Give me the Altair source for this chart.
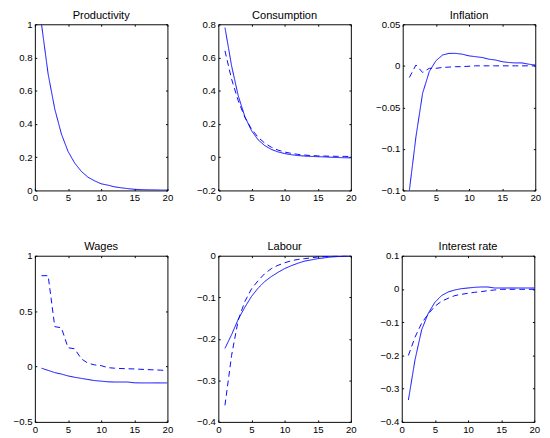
import altair as alt
import pandas as pd

# ---------------- data ----------------
periods = list(range(1, 21))

productivity = [1.0, 0.70, 0.49, 0.34, 0.235, 0.165, 0.115, 0.08, 0.058, 0.04,
                0.032, 0.022, 0.016, 0.011, 0.007, 0.005, 0.004, 0.003, 0.002, 0.002]

consumption_solid = [0.78, 0.55, 0.37, 0.245, 0.16, 0.105, 0.07, 0.047, 0.032, 0.022,
                     0.015, 0.01, 0.007, 0.005, 0.003, 0.002, 0.0, -0.002, -0.003, -0.004]
consumption_dashed = [0.64, 0.47, 0.34, 0.24, 0.17, 0.12, 0.085, 0.06, 0.043, 0.031,
                      0.023, 0.017, 0.013, 0.01, 0.008, 0.007, 0.006, 0.005, 0.005, 0.004]

inflation_solid = [-0.15, -0.085, -0.033, -0.007, 0.006, 0.013, 0.015, 0.015, 0.014, 0.012,
                   0.011, 0.010, 0.008, 0.007, 0.005, 0.004, 0.0035, 0.0035, 0.002, 0.001]
inflation_dashed = [-0.014, 0.001, -0.008, -0.003, -0.003, -0.002, -0.0015, -0.001, -0.001, -0.0005,
                    0.0, 0.0, 0.0, 0.0, 0.0, 0.0, 0.0, 0.0, 0.0, 0.0]

wages_solid = [-0.015, -0.035, -0.055, -0.068, -0.085, -0.097, -0.107, -0.117, -0.127, -0.132,
               -0.138, -0.14, -0.14, -0.14, -0.147, -0.148, -0.148, -0.148, -0.148, -0.148]
wages_dashed = [0.82, 0.82, 0.36, 0.35, 0.17, 0.16, 0.07, 0.03, 0.015, 0.008,
                -0.01, -0.015, -0.018, -0.02, -0.022, -0.025, -0.028, -0.03, -0.033, -0.035]

labour_solid = [-0.223, -0.19, -0.153, -0.124, -0.098, -0.078, -0.062, -0.05, -0.04, -0.031,
                -0.024, -0.018, -0.013, -0.01, -0.007, -0.005, -0.003, -0.002, -0.001, 0.0]
labour_dashed = [-0.36, -0.24, -0.155, -0.11, -0.08, -0.06, -0.043, -0.031, -0.023, -0.017,
                 -0.012, -0.009, -0.007, -0.005, -0.003, -0.002, -0.001, 0.0, 0.0, 0.0]

interest_solid = [-0.334, -0.213, -0.123, -0.073, -0.04, -0.02, -0.009, -0.003, 0.001, 0.003,
                  0.005, 0.006, 0.006, 0.003, 0.003, 0.003, 0.003, 0.003, 0.003, 0.003]
interest_dashed = [-0.2, -0.145, -0.103, -0.075, -0.052, -0.037, -0.028, -0.02, -0.016, -0.013,
                   -0.01, -0.008, -0.005, -0.003, -0.001, -0.001, -0.001, -0.001, -0.001, -0.001]

x_ticks = [0, 5, 10, 15, 20]
productivity_ticks = [0, 0.2, 0.4, 0.6, 0.8, 1]
consumption_ticks = [-0.2, 0, 0.2, 0.4, 0.6, 0.8]
inflation_ticks = [-0.15, -0.1, -0.05, 0, 0.05]
wages_ticks = [-0.5, 0, 0.5, 1]
labour_ticks = [-0.4, -0.3, -0.2, -0.1, 0]
interest_ticks = [-0.4, -0.3, -0.2, -0.1, 0, 0.1]

# ---------------- layout ----------------
W, H = 138, 173
FONT = "Liberation Sans"
TICK = 2


def panel(title, solid, dashed, yticks):
    rows = [{"t": t, "v": v, "s": "solid"} for t, v in zip(periods, solid)]
    if dashed is not None:
        rows += [{"t": t, "v": v, "s": "dashed"} for t, v in zip(periods, dashed)]
    df = pd.DataFrame(rows)
    return (
        alt.Chart(df, title=alt.TitleParams(title, fontSize=11.5, font=FONT,
                                            fontWeight="normal", offset=-2, color="black"))
        .mark_line(color="#0000ff", strokeWidth=1, clip=True)
        .encode(
            x=alt.X("t:Q", scale=alt.Scale(domain=[0, 20], nice=False, zero=False),
                    axis=alt.Axis(values=x_ticks, title=None, ticks=False, domain=False,
                                  labelPadding=3, labelFont=FONT, labelFontSize=10,
                                  labelColor="black", labelFlush=False, labelOverlap=False,
                                  grid=True, gridColor="black", gridOpacity=1, gridWidth=1,
                                  gridDash=[TICK, H - 2 * TICK, TICK],
                                  minExtent=14, maxExtent=14)),
            y=alt.Y("v:Q", scale=alt.Scale(domain=[yticks[0], yticks[-1]], nice=False, zero=False),
                    axis=alt.Axis(values=yticks, title=None, ticks=False, domain=False,
                                  labelPadding=3, labelFont=FONT, labelFontSize=10,
                                  labelColor="black", labelFlush=False, labelOverlap=False,
                                  format="~g",
                                  grid=True, gridColor="black", gridOpacity=1, gridWidth=1,
                                  gridDash=[TICK, W - 2 * TICK, TICK],
                                  minExtent=27, maxExtent=27)),
            strokeDash=alt.StrokeDash("s:N",
                                      scale=alt.Scale(domain=["solid", "dashed"],
                                                      range=[[1, 0], [6, 4]]),
                                      legend=None),
            detail="s:N",
        )
        .properties(width=W, height=H)
    )


row1 = alt.hconcat(
    panel("Productivity", productivity, None, productivity_ticks),
    panel("Consumption", consumption_solid, consumption_dashed, consumption_ticks),
    panel("Inflation", inflation_solid, inflation_dashed, inflation_ticks),
    spacing=18,
)
row2 = alt.hconcat(
    panel("Wages", wages_solid, wages_dashed, wages_ticks),
    panel("Labour", labour_solid, labour_dashed, labour_ticks),
    panel("Interest rate", interest_solid, interest_dashed, interest_ticks),
    spacing=18,
)

chart = (
    alt.vconcat(row1, row2, spacing=38)
    .properties(padding={"left": 0, "top": -7, "right": 0, "bottom": -2},
                autosize="pad", background="white")
    .configure_view(stroke="black", strokeWidth=1)
)

chart.save("out.html", embed_options={"renderer": "svg", "actions": False})
